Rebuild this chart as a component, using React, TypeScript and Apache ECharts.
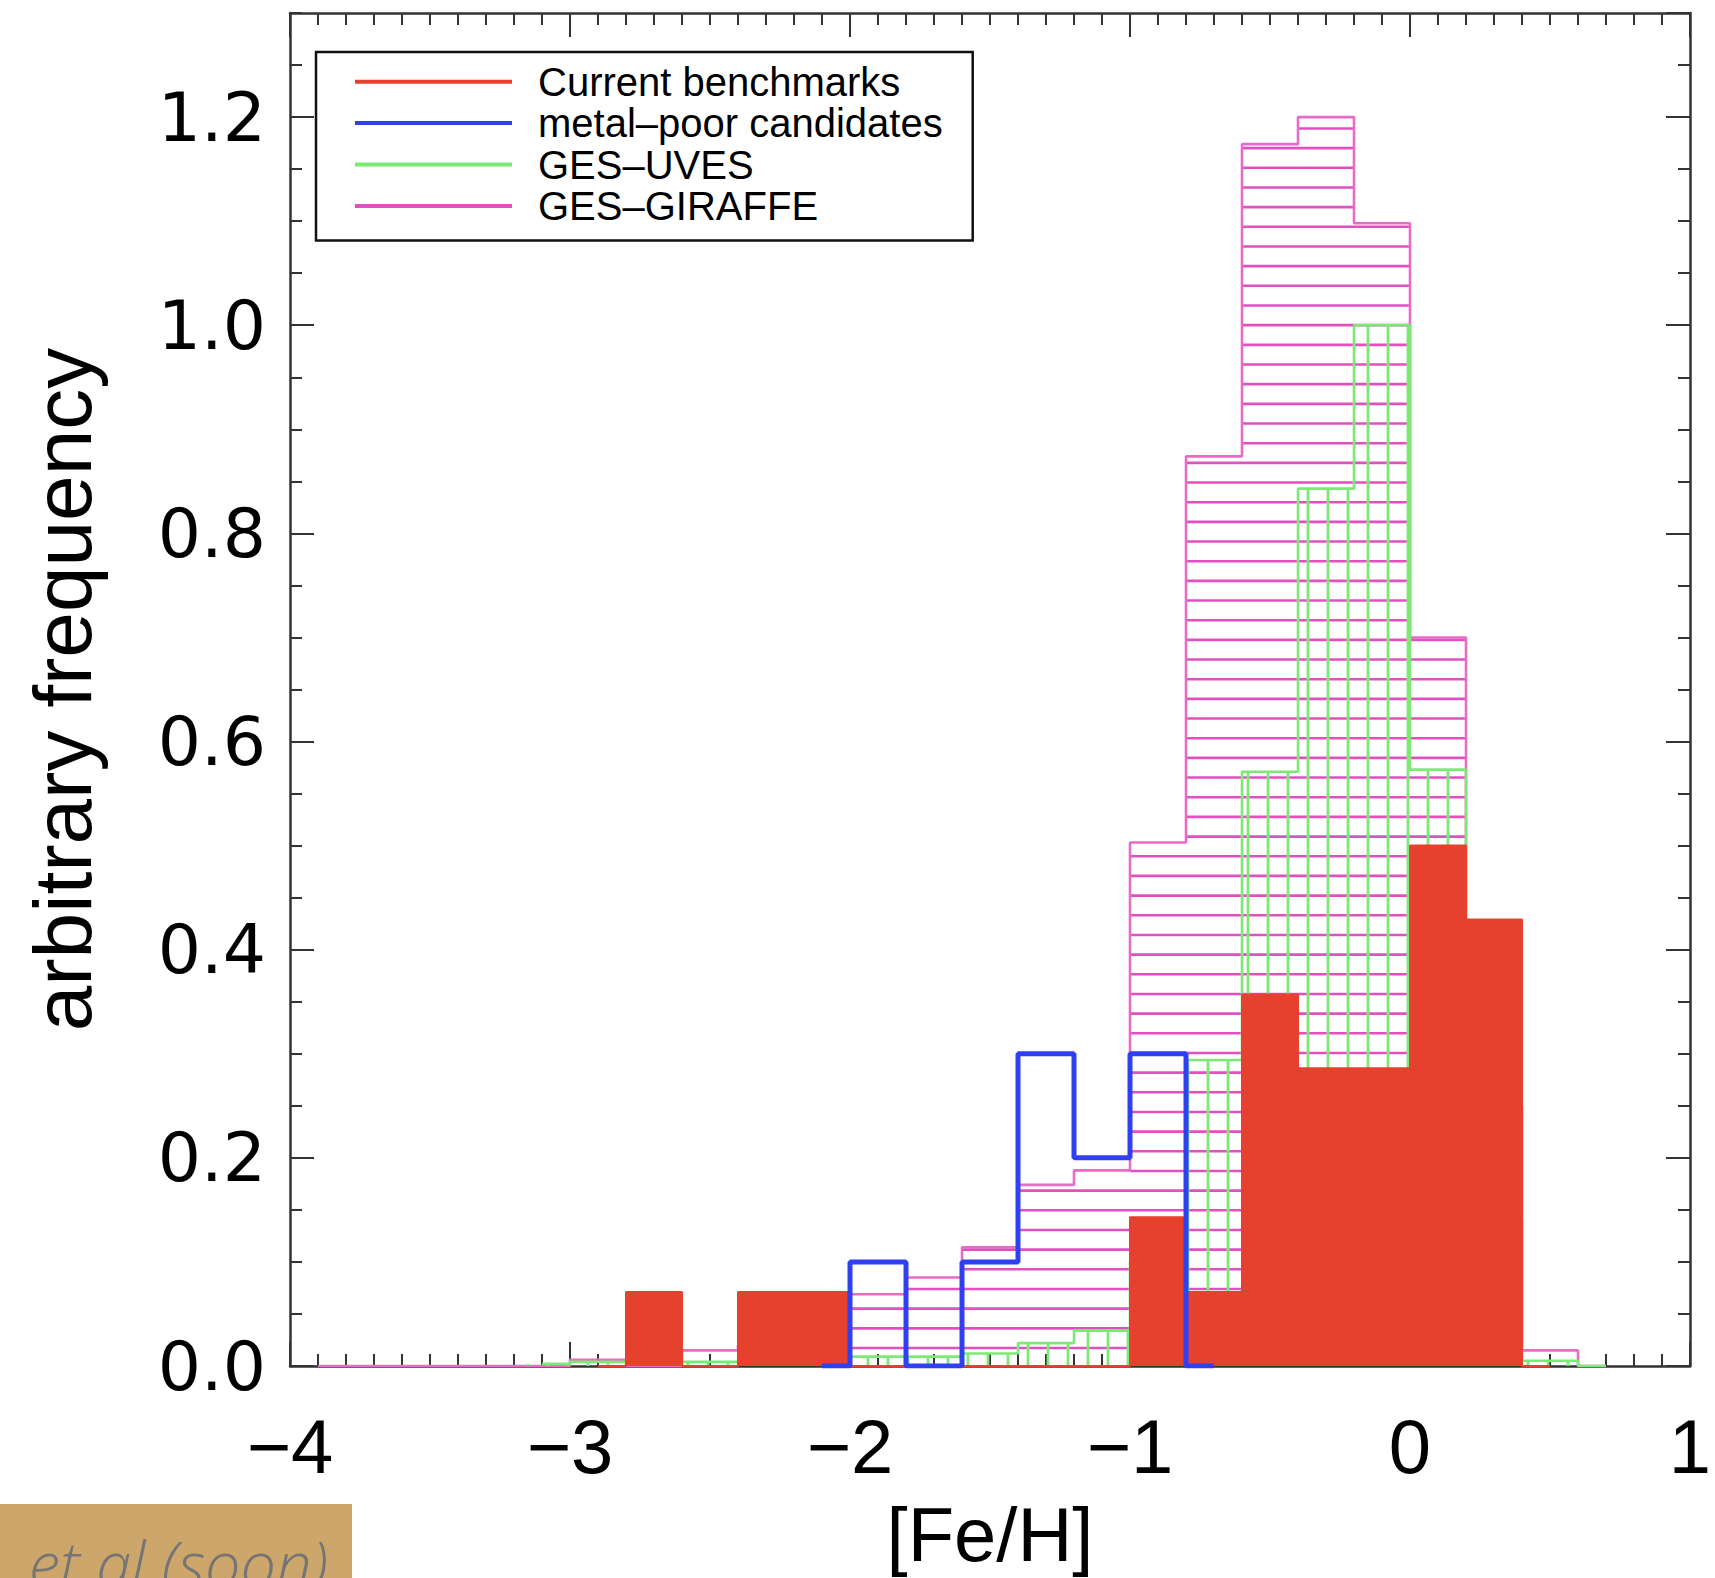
import React, { useEffect, useRef } from 'react';
import * as echarts from 'echarts';

// Histogram bins are 0.2 dex wide; each series is given at its bin centres.
const BIN_WIDTH = 0.2;
const X_MIN = -4;
const X_MAX = 1;
const Y_MAX = 1.3;

const benchmarkCenters = [-2.9, -2.7, -2.5, -2.3, -2.1, -1.9, -1.7, -1.5, -1.3, -1.1, -0.9, -0.7, -0.5, -0.3, -0.1, 0.1, 0.3, 0.5];
const benchmarkFreq = [0, 0.071, 0, 0.071, 0.071, 0, 0, 0, 0, 0, 0.143, 0.071, 0.357, 0.286, 0.286, 0.5, 0.429, 0];

const metalPoorCenters = [-2.1, -1.9, -1.7, -1.5, -1.3, -1.1, -0.9, -0.7];
const metalPoorFreq = [0, 0.1, 0, 0.1, 0.3, 0.2, 0.3, 0];

const uvesCenters = [-3.1, -2.9, -2.7, -2.5, -2.3, -2.1, -1.9, -1.7, -1.5, -1.3, -1.1, -0.9, -0.7, -0.5, -0.3, -0.1, 0.1, 0.3, 0.5, 0.7];
const uvesFreq = [0.002, 0.004, 0.004, 0.004, 0.006, 0.008, 0.009, 0.009, 0.012, 0.022, 0.034, 0.1, 0.294, 0.571, 0.843, 1.0, 0.573, 0.14, 0.005, 0];

const giraffeCenters = [-3.9, -3.7, -3.5, -3.3, -3.1, -2.9, -2.7, -2.5, -2.3, -2.1, -1.9, -1.7, -1.5, -1.3, -1.1, -0.9, -0.7, -0.5, -0.3, -0.1, 0.1, 0.3, 0.5, 0.7];
const giraffeFreq = [0, 0, 0, 0, 0, 0.006, 0, 0.015, 0.02, 0.04, 0.069, 0.085, 0.114, 0.174, 0.188, 0.503, 0.874, 1.174, 1.2, 1.098, 0.7, 0.25, 0.015, 0];

const xTickValues = [-4, -3, -2, -1, 0, 1];
const yTickValues = [0, 0.2, 0.4, 0.6, 0.8, 1.0, 1.2];

const NAME_BENCH = 'Current benchmarks';
const NAME_MP = 'metal–poor candidates';
const NAME_UVES = 'GES–UVES';
const NAME_GIRAFFE = 'GES–GIRAFFE';

const RED = '#E6402F';
const BLUE = '#2F40F4';
const GREEN = '#7DE975';
const PINK = '#E250BF';
const PINK_EDGE = '#E66CC8';
const AXIS_COLOR = '#333333';

// Hatching spacing in screen pixels
const H_HATCH_GAP = 19.67;
const H_HATCH_START = 18;
const V_HATCH_GAP = 20;
const V_HATCH_START = 18;

const pairs = (xs: number[], ys: number[]) => xs.map((x, i) => [x, ys[i]]);

function horizontalHatch(color: string) {
  return (_params: any, api: any) => {
    const c = api.value(0);
    const v = api.value(1);
    const children: any[] = [];
    if (v > 0) {
      const [xl, yb] = api.coord([c - BIN_WIDTH / 2, 0]);
      const [xr, yt] = api.coord([c + BIN_WIDTH / 2, v]);
      for (let y = yb - H_HATCH_START; y > yt + 1; y -= H_HATCH_GAP) {
        children.push({
          type: 'line',
          shape: { x1: xl, y1: y, x2: xr, y2: y },
          style: { stroke: color, lineWidth: 2.6 },
          silent: true,
        });
      }
    }
    return { type: 'group', children };
  };
}

function verticalHatch(color: string) {
  return (_params: any, api: any) => {
    const c = api.value(0);
    const v = api.value(1);
    const children: any[] = [];
    if (v > 0) {
      const [xl, yb] = api.coord([c - BIN_WIDTH / 2, 0]);
      const [xr, yt] = api.coord([c + BIN_WIDTH / 2, v]);
      const x0 = api.coord([X_MIN, 0])[0] + V_HATCH_START;
      const k = Math.ceil((xl + 1 - x0) / V_HATCH_GAP);
      for (let x = x0 + k * V_HATCH_GAP; x < xr - 1; x += V_HATCH_GAP) {
        children.push({
          type: 'line',
          shape: { x1: x, y1: yb, x2: x, y2: yt },
          style: { stroke: color, lineWidth: 2.8 },
          silent: true,
        });
      }
    }
    return { type: 'group', children };
  };
}

const minusFmt = (v: number) => (v < 0 ? '\u2212' + Math.abs(v) : String(v));

const tickLine = { color: AXIS_COLOR, width: 2 };
const frameLine = { show: true, onZero: false, lineStyle: { color: AXIS_COLOR, width: 2.5 } };

function buildOption() {
  const xBase = {
    type: 'value',
    min: X_MIN,
    max: X_MAX,
    interval: 1,
    axisLine: frameLine,
    axisTick: { show: true, inside: true, length: 24, lineStyle: tickLine },
    minorTick: { show: true, splitNumber: 10, length: 12, lineStyle: tickLine },
    splitLine: { show: false },
    minorSplitLine: { show: false },
  };
  const yMajor = {
    type: 'value',
    min: 0,
    max: Y_MAX,
    interval: 0.2,
    axisLine: frameLine,
    axisTick: { show: true, inside: true, length: 24, lineStyle: tickLine },
    splitLine: { show: false },
  };
  const yMinor = {
    type: 'value',
    min: 0,
    max: Y_MAX,
    interval: 0.05,
    axisLine: { show: false, onZero: false },
    axisTick: { show: true, inside: true, length: 12, lineStyle: tickLine },
    axisLabel: { show: false },
    splitLine: { show: false },
  };

  return {
    animation: false,
    backgroundColor: '#ffffff',
    grid: {
      left: 290,
      top: 13,
      width: 1400,
      height: 1353,
      containLabel: false,
      outerBoundsMode: 'none',
    },
    xAxis: [
      {
        ...xBase,
        position: 'bottom',
        axisLabel: {
          show: true,
          margin: 42,
          fontSize: 76,
          fontFamily: 'Liberation Sans',
          color: '#000',
          formatter: (v: number) => (xTickValues.includes(v) ? minusFmt(v) : ''),
        },
        name: '[Fe/H]',
        nameLocation: 'middle',
        nameGap: 130,
        nameTextStyle: { fontSize: 76, fontFamily: 'Liberation Sans', color: '#000' },
      },
      { ...xBase, position: 'top', axisLabel: { show: false } },
    ],
    yAxis: [
      {
        ...yMajor,
        position: 'left',
        axisLabel: {
          show: true,
          margin: 24,
          fontSize: 68,
          fontFamily: 'DejaVu Sans',
          color: '#000',
          showMaxLabel: false,
          formatter: (v: number) =>
            yTickValues.some((t) => Math.abs(t - v) < 1e-9) ? v.toFixed(1) : '',
        },
        name: 'arbitrary frequency',
        nameLocation: 'middle',
        nameGap: 187,
        nameTextStyle: { fontSize: 82, fontFamily: 'Liberation Sans', color: '#000' },
      },
      { ...yMinor, position: 'left' },
      { ...yMajor, position: 'right', axisLabel: { show: false } },
      { ...yMinor, position: 'right' },
    ],
    legend: {
      show: true,
      orient: 'vertical',
      left: 316,
      top: 52,
      padding: [9, 30, 14, 39],
      itemGap: 0,
      itemWidth: 157,
      itemHeight: 4,
      borderColor: '#111',
      borderWidth: 2.5,
      backgroundColor: '#ffffff',
      selectedMode: false,
      textStyle: {
        fontSize: 40,
        fontFamily: 'Liberation Sans',
        color: '#000',
        lineHeight: 41.4,
        padding: [0, 0, 0, 21],
      },
      data: [
        { name: NAME_BENCH, icon: 'rect', itemStyle: { color: RED, borderWidth: 0 } },
        { name: NAME_MP, icon: 'rect', itemStyle: { color: BLUE, borderWidth: 0 } },
        { name: NAME_UVES, icon: 'rect', itemStyle: { color: GREEN, borderWidth: 0 } },
        { name: NAME_GIRAFFE, icon: 'rect', itemStyle: { color: PINK, borderWidth: 0 } },
      ],
    },
    series: [
      {
        name: NAME_GIRAFFE,
        type: 'custom',
        z: 1,
        clip: true,
        encode: { x: 0, y: 1 },
        itemStyle: { color: PINK },
        renderItem: horizontalHatch(PINK),
        data: pairs(giraffeCenters, giraffeFreq),
      },
      {
        name: NAME_GIRAFFE,
        type: 'line',
        z: 1,
        step: 'middle',
        showSymbol: false,
        symbol: 'none',
        lineStyle: { color: PINK_EDGE, width: 2.6 },
        itemStyle: { color: PINK },
        data: pairs(giraffeCenters, giraffeFreq),
      },
      {
        name: NAME_UVES,
        type: 'custom',
        z: 2,
        clip: true,
        encode: { x: 0, y: 1 },
        itemStyle: { color: GREEN },
        renderItem: verticalHatch(GREEN),
        data: pairs(uvesCenters, uvesFreq),
      },
      {
        name: NAME_UVES,
        type: 'line',
        z: 2,
        step: 'middle',
        showSymbol: false,
        symbol: 'none',
        lineStyle: { color: GREEN, width: 2.6 },
        itemStyle: { color: GREEN },
        data: pairs(uvesCenters, uvesFreq),
      },
      {
        name: NAME_BENCH,
        type: 'line',
        z: 3,
        step: 'middle',
        showSymbol: false,
        symbol: 'none',
        lineStyle: { color: RED, width: 2 },
        itemStyle: { color: RED },
        areaStyle: { color: RED, opacity: 1 },
        data: pairs(benchmarkCenters, benchmarkFreq),
      },
      {
        name: NAME_MP,
        type: 'line',
        z: 4,
        step: 'middle',
        showSymbol: false,
        symbol: 'none',
        lineStyle: { color: BLUE, width: 5 },
        itemStyle: { color: BLUE },
        data: pairs(metalPoorCenters, metalPoorFreq),
      },
    ],
    graphic: [
      {
        type: 'rect',
        x: 0,
        y: 1504,
        shape: { width: 352, height: 74 },
        style: { fill: '#CDA66B' },
        z: 10,
      },
      {
        type: 'text',
        x: 328,
        y: 1594,
        z: 11,
        style: {
          text: 'et al (soon)',
          fontSize: 63,
          fontFamily: 'Open Sans',
          fontStyle: 'italic',
          fontWeight: 300,
          fill: '#757575',
          align: 'right',
          verticalAlign: 'bottom',
        },
      },
    ],
  };
}

export default function App() {
  const ref = useRef<HTMLDivElement>(null);
  useEffect(() => {
    if (!ref.current) return;
    const chart = echarts.init(ref.current, null, { renderer: 'svg' });
    chart.setOption(buildOption() as any);
    return () => chart.dispose();
  }, []);
  return (
    <div
      ref={ref}
      style={{ position: 'fixed', left: 0, top: 0, width: 1715, height: 1578, background: '#ffffff' }}
    />
  );
}
